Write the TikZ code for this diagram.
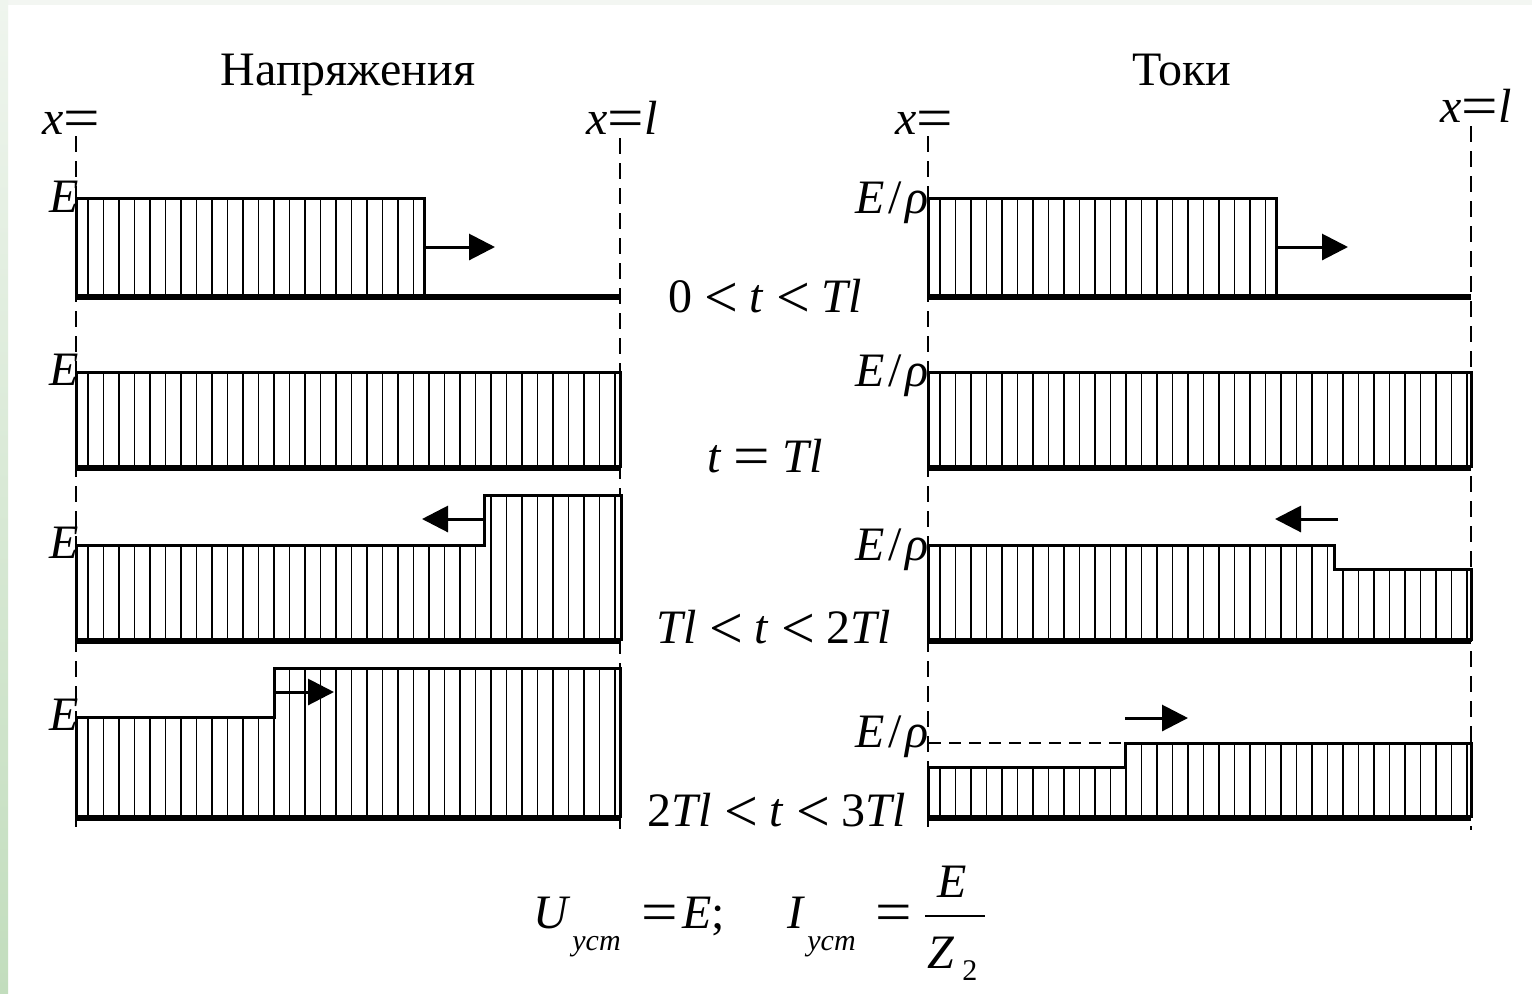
\documentclass[tikz,border=0pt]{standalone}
\usepackage[no-math]{fontspec}
\setmainfont{Liberation Serif}
\usetikzlibrary{arrows.meta}
\definecolor{stripbot}{HTML}{C2DDBD}
\definecolor{striptop}{HTML}{EFF5EE}
\definecolor{topband}{HTML}{F3F6F2}
\newcommand\meq{\raisebox{-0.07em}{\scalebox{1.35}[1.2]{=}}}
\newcommand\mlt{\raisebox{-0.12em}{\scalebox{1.25}{<}}}
\newcommand\gp{\hspace{0.25em}}
\newcommand\hatchlines[3]{% panel left x, top y, bottom y
  \foreach \i in {0,...,35} \draw[hline] ({#1+12+15.5*\i},#2) -- ({#1+12+15.5*\i},#3);}
\begin{document}
\begin{tikzpicture}[x=0.5pt,y=-0.5pt,
  outl/.style={line width=1.5pt, line join=miter},
  baseln/.style={line width=3.3pt},
  hline/.style={line width=0.95pt},
  vdash/.style={line width=1pt, dash pattern=on 8pt off 4.5pt},
  hdash/.style={line width=1pt, dash pattern=on 6pt off 4pt},
  arr/.style={line width=1.5pt, -{Triangle[length=13pt,width=13pt]}},
  lab/.style={font=\fontsize{24}{24}\selectfont, inner sep=0pt},
  sublab/.style={font=\fontsize{15}{15}\selectfont, inner sep=0pt}
]
\useasboundingbox (0,0) rectangle (1532,993);
\fill[white] (0,0) rectangle (1532,993);
\fill[topband] (0,0) rectangle (1532,5);
\shade[top color=striptop, bottom color=stripbot] (0,0) rectangle (8,993);

% titles
\node[lab, anchor=base] (t1) at (348,85) {Напряжения};
\node[lab, anchor=base] (t2) at (1182,85) {Токи};

% x labels
\node[lab, anchor=base west] (xl0) at (42,134) {\textit{x}\meq};
\node[lab, anchor=base west] (xll) at (586,134) {\textit{x}\meq\textit{l}};
\node[lab, anchor=base west] (xr0) at (895,134) {\textit{x}\meq};
\node[lab, anchor=base west] (xrl) at (1440,122) {\textit{x}\meq\textit{l}};

% dashed verticals
\coordinate (a1) at (76,136); \coordinate (a2) at (76,830);
\coordinate (b1) at (620,138); \coordinate (b2) at (620,830);
\coordinate (c1) at (928,136); \coordinate (c2) at (928,830);
\coordinate (d1) at (1471,126); \coordinate (d2) at (1471,830);
\draw[vdash] (a1) -- (a2);
\draw[vdash] (b1) -- (b2);
\draw[vdash] (c1) -- (c2);
\draw[vdash] (d1) -- (d2);

% ---------------- LEFT PANEL ----------------
% row 1
\fill[white] (76,198) rectangle (424,297);
\begin{scope}\clip (76,198) rectangle (424,297); \hatchlines{76}{190}{300}\end{scope}
\draw[outl] (76,297) -- (76,198) -- (424,198) -- (424,297);
\draw[baseln] (76,297) -- (620,297);
\coordinate (la1s) at (425,247); \coordinate (la1e) at (495,247);
\draw[arr] (la1s) -- (la1e);
% row 2
\fill[white] (76,372) rectangle (620,468);
\begin{scope}\clip (76,372) rectangle (620,468); \hatchlines{76}{365}{470}\end{scope}
\draw[outl] (76,468) -- (76,372) -- (620,372) -- (620,468);
\draw[baseln] (76,468) -- (620,468);
% row 3
\fill[white] (76,641) -- (76,545) -- (484,545) -- (484,495) -- (621,495) -- (621,641) -- cycle;
\begin{scope}\clip (76,641) -- (76,545) -- (484,545) -- (484,495) -- (621,495) -- (621,641) -- cycle; \hatchlines{76}{490}{645}\end{scope}
\draw[outl] (76,641) -- (76,545) -- (484,545) -- (484,495) -- (621,495) -- (621,641);
\draw[baseln] (76,641) -- (621,641);
\coordinate (la3s) at (483,519); \coordinate (la3e) at (422,519);
\draw[arr] (la3s) -- (la3e);
% row 4
\fill[white] (76,818) -- (76,717) -- (274,717) -- (274,668) -- (620,668) -- (620,818) -- cycle;
\begin{scope}\clip (76,818) -- (76,717) -- (274,717) -- (274,668) -- (620,668) -- (620,818) -- cycle; \hatchlines{76}{660}{820}\end{scope}
\draw[outl] (76,818) -- (76,717) -- (274,717) -- (274,668) -- (620,668) -- (620,818);
\draw[baseln] (76,818) -- (620,818);
\coordinate (la4s) at (275,692); \coordinate (la4e) at (334,692);
\draw[arr] (la4s) -- (la4e);

% E labels
\node[lab, anchor=base east] (e1) at (79,212) {\textit{E}};
\node[lab, anchor=base east] (e2) at (79,385) {\textit{E}};
\node[lab, anchor=base east] (e3) at (79,558) {\textit{E}};
\node[lab, anchor=base east] (e4) at (79,730) {\textit{E}};

% ---------------- RIGHT PANEL ----------------
% row 1
\fill[white] (928,198) rectangle (1276,297);
\begin{scope}\clip (928,198) rectangle (1276,297); \hatchlines{928}{190}{300}\end{scope}
\draw[outl] (928,297) -- (928,198) -- (1276,198) -- (1276,297);
\draw[baseln] (928,297) -- (1471,297);
\coordinate (ra1s) at (1277,247); \coordinate (ra1e) at (1348,247);
\draw[arr] (ra1s) -- (ra1e);
% row 2
\fill[white] (928,372) rectangle (1471,468);
\begin{scope}\clip (928,372) rectangle (1471,468); \hatchlines{928}{365}{470}\end{scope}
\draw[outl] (928,468) -- (928,372) -- (1471,372) -- (1471,468);
\draw[baseln] (928,468) -- (1471,468);
% row 3
\fill[white] (928,641) -- (928,545) -- (1334,545) -- (1334,569) -- (1471,569) -- (1471,641) -- cycle;
\begin{scope}\clip (928,641) -- (928,545) -- (1334,545) -- (1334,569) -- (1471,569) -- (1471,641) -- cycle; \hatchlines{928}{540}{645}\end{scope}
\draw[outl] (928,641) -- (928,545) -- (1334,545) -- (1334,569) -- (1471,569) -- (1471,641);
\draw[baseln] (928,641) -- (1471,641);
\coordinate (ra3s) at (1338,519); \coordinate (ra3e) at (1275,519);
\draw[arr] (ra3s) -- (ra3e);
% row 4
\fill[white] (928,818) -- (928,767) -- (1125,767) -- (1125,743) -- (1471,743) -- (1471,818) -- cycle;
\begin{scope}\clip (928,818) -- (928,767) -- (1125,767) -- (1125,743) -- (1471,743) -- (1471,818) -- cycle; \hatchlines{928}{735}{820}\end{scope}
\draw[outl] (928,818) -- (928,767) -- (1125,767) -- (1125,743) -- (1471,743) -- (1471,818);
\draw[baseln] (928,818) -- (1471,818);
\coordinate (rd1) at (929,743); \coordinate (rd2) at (1125,743);
\draw[hdash] (rd1) -- (rd2);
\coordinate (ra4s) at (1125,718); \coordinate (ra4e) at (1188,718);
\draw[arr] (ra4s) -- (ra4e);

% E/rho labels
\node[lab, anchor=base east] (r1) at (929,213) {\textit{E}\hspace{0.08em}/\hspace{0.08em}\textit{ρ}};
\node[lab, anchor=base east] (r2) at (929,386) {\textit{E}\hspace{0.08em}/\hspace{0.08em}\textit{ρ}};
\node[lab, anchor=base east] (r3) at (929,560) {\textit{E}\hspace{0.08em}/\hspace{0.08em}\textit{ρ}};
\node[lab, anchor=base east] (r4) at (929,747) {\textit{E}\hspace{0.08em}/\hspace{0.08em}\textit{ρ}};

% time labels
\node[lab, anchor=base] (tm1) at (765,312) {0\gp\mlt\gp\textit{t}\gp\mlt\gp\textit{Tl}};
\node[lab, anchor=base] (tm2) at (765,472) {\textit{t}\gp\meq\gp\textit{Tl}};
\node[lab, anchor=base] (tm3) at (774,643) {\textit{Tl}\gp\mlt\gp\textit{t}\gp\mlt\gp2\textit{Tl}};
\node[lab, anchor=base] (tm4) at (777,826) {2\textit{Tl}\gp\mlt\gp\textit{t}\gp\mlt\gp3\textit{Tl}};

% formula
\node[lab, anchor=base west] (fU) at (533,928) {\textit{U}};
\node[sublab, anchor=base west] (fUs) at (572,950) {\textit{уст}};
\node[lab, anchor=base west] (fq1) at (641,928) {\meq};
\node[lab, anchor=base west] (fE) at (682,928) {\textit{E};};
\node[lab, anchor=base west] (fI) at (787,928) {\textit{I}};
\node[sublab, anchor=base west] (fIs) at (807,950) {\textit{уст}};
\node[lab, anchor=base west] (fq2) at (875,928) {\meq};
\node[lab, anchor=base] (fN) at (952,897) {\textit{E}};
\coordinate (fb1) at (925,916); \coordinate (fb2) at (985,916);
\draw[line width=1pt] (fb1) -- (fb2);
\node[lab, anchor=base west] (fZ) at (927,968) {\textit{Z}};
\node[sublab, anchor=base west] (fZs) at (962,980) {2};
\end{tikzpicture}
\end{document}
